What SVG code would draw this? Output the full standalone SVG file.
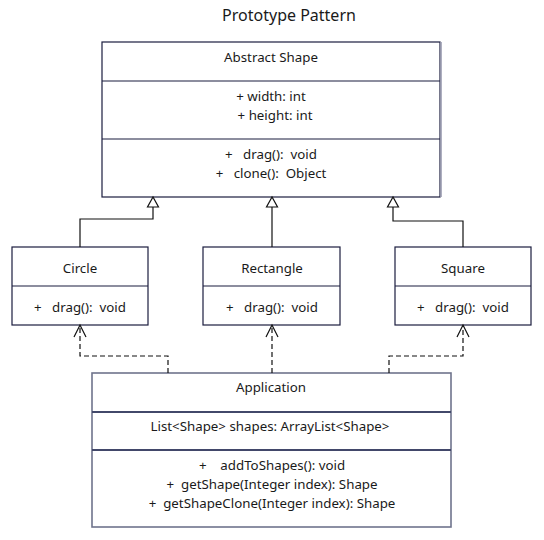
<svg xmlns="http://www.w3.org/2000/svg" width="544" height="540" viewBox="0 0 544 540" xml:space="preserve">
<style>
  text { font-family: "Noto Sans", "Open Sans", sans-serif; font-size: 13.3px; fill: #1a1a1a; text-anchor: middle; white-space: pre; }
  .title { font-size: 16px; }
  .box { fill: #ffffff; stroke: #1b1d3f; stroke-width: 1.2; }
  .div { stroke: #1b1d3f; stroke-width: 1.2; fill: none; }
  .app { fill: #ffffff; stroke: #6f748c; stroke-width: 1.6; }
  .appdiv { stroke: #42486a; stroke-width: 1.8; fill: none; }
  .edge { stroke: #111111; stroke-width: 1.2; fill: none; }
  .dep { stroke: #111111; stroke-width: 1.2; fill: none; stroke-dasharray: 5 3; }
  .tri { fill: #ffffff; stroke: #111111; stroke-width: 1.2; }
  .open { fill: none; stroke: #111111; stroke-width: 1.2; }
</style>
<text class="title" x="289" y="21">Prototype Pattern</text>

<g id="abstract-shape">
  <rect class="box" x="102" y="42" width="338" height="155"/>
  <line x1="441" y1="42" x2="441" y2="197" stroke="#9a9bb0" stroke-width="1.6"/>
  <line class="div" x1="102" y1="81" x2="440" y2="81"/>
  <line class="div" x1="102" y1="139" x2="440" y2="139"/>
  <text x="271" y="62">Abstract Shape</text>
  <text x="271" y="101">+ width: int</text>
  <text x="275" y="120">+ height: int</text>
  <text x="271" y="159">+   drag():  void</text>
  <text x="271" y="178">+   clone():  Object</text>
</g>

<g id="circle">
  <rect class="box" x="12" y="247" width="136" height="78"/>
  <line class="div" x1="12" y1="286" x2="148" y2="286"/>
  <text x="80" y="273">Circle</text>
  <text x="80" y="312">+   drag():  void</text>
</g>

<g id="rectangle">
  <rect class="box" x="203" y="247" width="137" height="78"/>
  <line class="div" x1="203" y1="286" x2="340" y2="286"/>
  <text x="272" y="273">Rectangle</text>
  <text x="272" y="312">+   drag():  void</text>
</g>

<g id="square">
  <rect class="box" x="395" y="247" width="136" height="78"/>
  <line class="div" x1="395" y1="286" x2="531" y2="286"/>
  <text x="463" y="273">Square</text>
  <text x="463" y="312">+   drag():  void</text>
</g>

<g id="application">
  <rect class="app" x="92" y="373" width="359" height="154"/>
  <line class="appdiv" x1="92" y1="412" x2="451" y2="412"/>
  <line class="appdiv" x1="92" y1="450" x2="451" y2="450"/>
  <text x="271" y="392">Application</text>
  <text x="270" y="431">List&lt;Shape&gt; shapes: ArrayList&lt;Shape&gt;</text>
  <text x="272" y="470">+    addToShapes(): void</text>
  <text x="272" y="489">+  getShape(Integer index): Shape</text>
  <text x="272" y="508">+  getShapeClone(Integer index): Shape</text>
</g>

<g id="connectors">
  <polyline class="edge" points="80,247 80,219 153,219 153,207"/>
  <polygon class="tri" points="153,197 147.5,207 158.5,207"/>
  <polyline class="edge" points="272,247 272,207"/>
  <polygon class="tri" points="272,197 266.5,207 277.5,207"/>
  <polyline class="edge" points="463,247 463,221 393,221 393,207"/>
  <polygon class="tri" points="393,197 387.5,207 398.5,207"/>

  <polyline class="dep" points="168,373 168,356 80,356 80,326"/>
  <polyline class="open" points="74,337 80,325 86,337"/>
  <polyline class="dep" points="272,373 272,326"/>
  <polyline class="open" points="266,337 272,325 278,337"/>
  <polyline class="dep" points="389,373 389,356 463,356 463,326"/>
  <polyline class="open" points="457,337 463,325 469,337"/>
</g>
</svg>
